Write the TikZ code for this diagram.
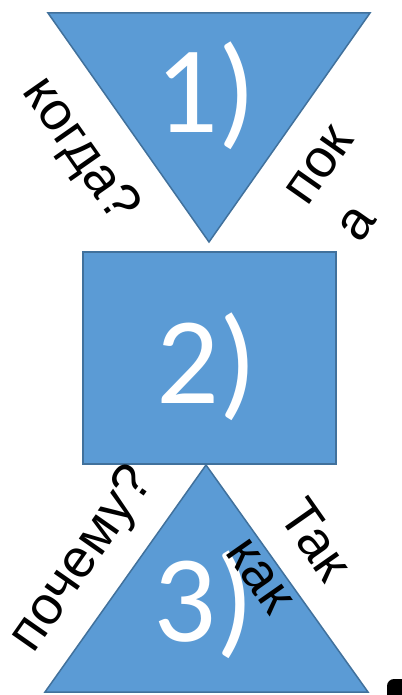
\documentclass[tikz,border=0pt]{standalone}
\usepackage{fontspec}
\setmainfont{Liberation Sans}
\newfontfamily\numfont{Carlito}
\definecolor{shapefill}{HTML}{5B9BD5}
\definecolor{shapeline}{HTML}{41719C}
\tikzset{
  shapestyle/.style={fill=shapefill, draw=shapeline, line width=1.5pt, line join=miter},
  numlabel/.style={text=white, font=\numfont\fontsize{124}{124}\selectfont, inner sep=0pt, anchor=base},
  sidelabel/.style={text=black, font=\fontsize{54}{64}\selectfont, inner sep=0pt, align=left},
}
\begin{document}
\begin{tikzpicture}[x=1pt,y=-1pt]
\useasboundingbox (0,0) rectangle (401,695);
% shapes
\draw[shapestyle] (48,13) -- (370,13) -- (209,242) -- cycle;
\draw[shapestyle] (83,252) rectangle (336,464);
\draw[shapestyle] (206,465) -- (368,692) -- (45,692) -- cycle;
% numbers
\node[numlabel] (n1) at (206,133) {1)};
\node[numlabel] (n2) at (207,403) {2)};
\node[numlabel] (n3) at (204,641) {3)};
% side texts
\node[sidelabel, rotate=-55] (t1) at (79,151) {когда?};
\node[sidelabel, rotate=55] (t2) at (346,184) {пок\\а};
\node[sidelabel, rotate=55] (t3) at (83,560) {почему?};
\node[sidelabel, rotate=-55] (t4) at (290,558) {Так\\как};
% black blob at bottom right
\fill[black, rounded corners=7pt] (387,679) rectangle (412,708);
\end{tikzpicture}
\end{document}
